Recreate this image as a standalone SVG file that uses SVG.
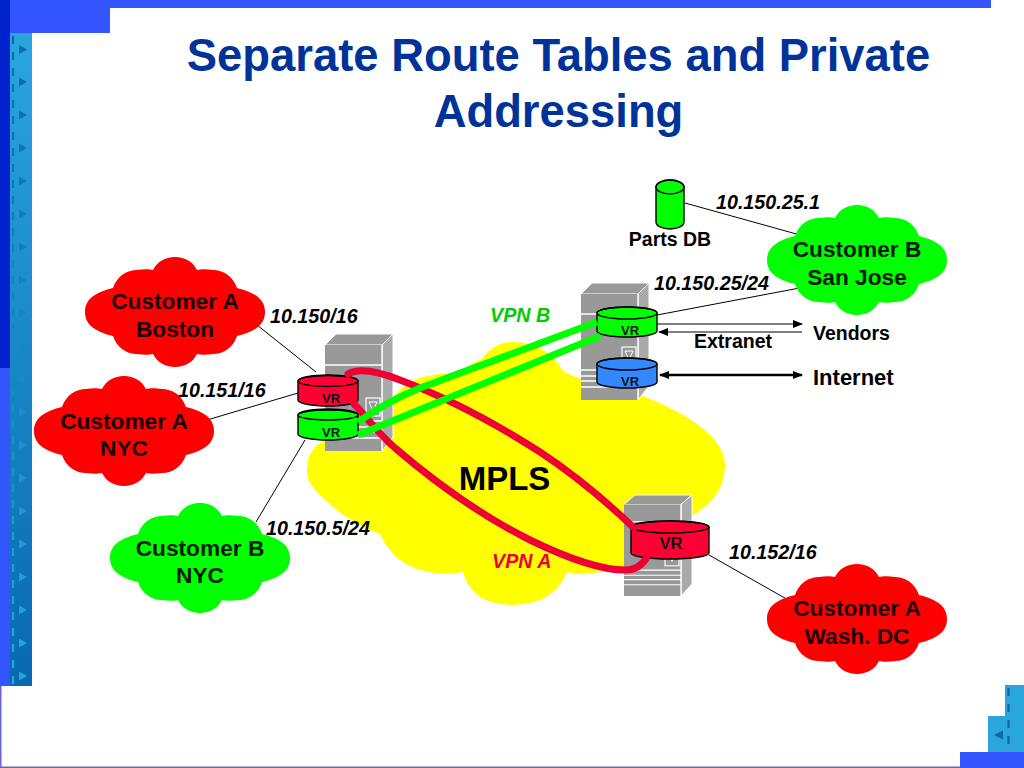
<svg xmlns="http://www.w3.org/2000/svg" width="1024" height="768" viewBox="0 0 1024 768">
<style>
text{font-family:"Liberation Sans",Arial,sans-serif;font-weight:bold;fill:#000;text-anchor:middle}
.ttl{font-size:45.4px;fill:#003399}
.cl{font-size:22.7px;fill:#1a0000}
.ip{font-size:19.7px;font-style:italic;text-anchor:start}
.lb{font-size:19.5px;text-anchor:start}
.vr{font-size:13px;fill:#111}
.thin{fill:none;stroke:#000;stroke-width:1}
.red{fill:#ff0033;stroke:#000;stroke-width:1.4}
.grn{fill:#00ff00;stroke:#000;stroke-width:1.4}
.blu{fill:#3388ff;stroke:#000;stroke-width:1.4}
.cap{fill:none;stroke:#000;stroke-width:1.4}
.rl{fill:none;stroke:#ee0033;stroke-width:7;stroke-linecap:round}
.gl{fill:none;stroke:#00ff00;stroke-width:7}
</style>
<defs>
<linearGradient id="strip" gradientUnits="userSpaceOnUse" x1="0" y1="33" x2="0" y2="686"><stop offset="0" stop-color="#2aa6dd"/><stop offset="1" stop-color="#0868b0"/></linearGradient>
<linearGradient id="mark" gradientUnits="userSpaceOnUse" x1="0" y1="33" x2="0" y2="686"><stop offset="0" stop-color="#0868b0"/><stop offset="1" stop-color="#2aa6dd"/></linearGradient>
<path id="cloud" d="M-90,0C-90,-14 -78,-20 -62,-24C-58,-36 -48,-42 -38,-42C-32,-43 -26,-43 -22,-42C-18,-50 -10,-55 0,-55C10,-55 18,-50 22,-42C26,-43 32,-43 38,-42C48,-42 58,-36 62,-24C78,-20 90,-14 90,0C90,14 78,20 62,24C58,36 48,42 38,42C32,43 26,43 22,42C18,50 10,55 0,55C-10,55 -18,50 -22,42C-26,43 -32,43 -38,42C-48,42 -58,36 -62,24C-78,20 -90,14 -90,0Z"/>
<g id="server">
<path d="M0,11L11,0H68L57,11Z" fill="#999" stroke="#fff" stroke-width="1"/>
<path d="M57,11L68,0V103L57,117Z" fill="#aaa" stroke="#fff" stroke-width="1"/>
<rect x="0" y="11" width="57" height="106" fill="#999"/>
<path d="M0,31H57M0,87H57M0,93H57M0,98H57M0,104H57M57,11V117" stroke="#fff" stroke-width="1.4" fill="none"/>
<rect x="41" y="64" width="14" height="18" fill="#999" stroke="#fff" stroke-width="1.2"/>
<path d="M44,68H52L48,77Z" fill="none" stroke="#fff" stroke-width="1"/>
</g>
<marker id="ah" markerUnits="userSpaceOnUse" markerWidth="10" markerHeight="8" refX="9" refY="4" orient="auto-start-reverse"><path d="M0,0L10,4L0,8Z" fill="#000"/></marker>
</defs>
<rect width="1024" height="768" fill="#ffffff"/>
<g id="slide-frame">
<rect x="0" y="686" width="1.5" height="82" fill="#6666cc"/>
<rect x="0" y="766.5" width="960" height="1.5" fill="#6666cc"/>
<rect x="10" y="33" width="22" height="653" fill="url(#strip)"/>
<rect x="0" y="0" width="10" height="368" fill="#0022cc"/>
<rect x="0" y="368" width="10" height="318" fill="#3355ff"/>
<rect x="10" y="0" width="981" height="8" fill="#3355ff"/>
<rect x="10" y="8" width="100" height="25" fill="#3355ff"/>
<path d="M13,36V686" stroke="url(#mark)" stroke-width="2.2" stroke-dasharray="8 8" fill="none"/>
<path fill="url(#mark)" d="M19,45l8,4.500l-8,4.500zM19,77.500l8,4.500l-8,4.500zM19,110.500l8,4.500l-8,4.500zM19,143.500l8,4.500l-8,4.500zM19,176.500l8,4.500l-8,4.500zM19,209.500l8,4.500l-8,4.500zM19,242.500l8,4.500l-8,4.500zM19,275.500l8,4.500l-8,4.500zM19,308.500l8,4.500l-8,4.500zM19,341.500l8,4.500l-8,4.500zM19,374.500l8,4.500l-8,4.500zM19,407.500l8,4.500l-8,4.500zM19,440.500l8,4.500l-8,4.500zM19,473.500l8,4.500l-8,4.500zM19,506.500l8,4.500l-8,4.500zM19,539.500l8,4.500l-8,4.500zM19,572.500l8,4.500l-8,4.500zM19,605.500l8,4.500l-8,4.500zM19,638.500l8,4.500l-8,4.500zM19,671.500l8,4.500l-8,4.500z"/>
<path d="M1005,685H1024V752H988V716H1005Z" fill="#2aa6dd"/>
<rect x="960" y="752" width="64" height="16" fill="#3355ff"/>
<path d="M1008.500,688V750" stroke="#0868b0" stroke-width="2.2" stroke-dasharray="8 8" fill="none"/>
<path d="M1003,730.500V739.500L994,735Z" fill="#0868b0"/>
</g>
<text class="ttl" x="558.500" y="71">Separate Route Tables and Private</text>
<text class="ttl" x="558.500" y="127">Addressing</text>
<g id="mpls">
<path d="M307,472C307,455 312,448 325,440L395,395C405,385 415,378 428,376C440,373 450,373 460,374C468,366 474,362 482,359C490,348 500,342 512,342C525,342 535,345 543,350C552,355 558,362 562,370C580,382 610,385 640,395C680,410 725,435 725,465C725,490 710,505 693,515L640,570L600,572C585,574 575,574 567,572C560,590 545,600 530,603C515,606 495,606 480,597C470,590 465,580 463,572C450,574 440,574 430,572C405,568 390,555 380,534C355,525 335,510 320,495C312,487 307,480 307,472Z" fill="#ffff00"/>
<text x="504.500" y="490" style="font-size:33px">MPLS</text>
</g>
<g id="server-left"><use href="#server" transform="translate(325,334)"/></g>
<g id="server-right"><use href="#server" transform="translate(581,283)"/></g>
<g id="server-dc"><use href="#server" transform="translate(624,495) scale(1,.863)"/></g>
<g id="connectors">
<path class="thin" d="M257,325L316,372M207,420L298,393M305,440L256,522M685,203L800,235M657,315L805,287M709,555L790,601"/>
<path class="thin" d="M657,324H802" marker-end="url(#ah)"/>
<path class="thin" d="M659,332H802" marker-start="url(#ah)"/>
<path d="M660,375H802" fill="none" stroke="#000" stroke-width="2.500" marker-start="url(#ah)" marker-end="url(#ah)"/>
</g>
<g id="cust-a-boston"><use href="#cloud" x="175" y="312" fill="#ff0000"/><text class="cl" x="175" y="309">Customer A</text><text class="cl" x="175" y="337">Boston</text></g>
<g id="cust-a-nyc"><use href="#cloud" x="124" y="431" fill="#ff0000"/><text class="cl" x="124" y="429">Customer A</text><text class="cl" x="124" y="456">NYC</text></g>
<g id="cust-b-nyc"><use href="#cloud" x="200" y="558" fill="#00ff00"/><text class="cl" x="200" y="556" style="fill:#001a00">Customer B</text><text class="cl" x="200" y="583" style="fill:#001a00">NYC</text></g>
<g id="cust-b-sj"><use href="#cloud" x="857" y="260" fill="#00ff00"/><text class="cl" x="857" y="257" style="fill:#001a00">Customer B</text><text class="cl" x="857" y="285" style="fill:#001a00">San Jose</text></g>
<g id="cust-a-dc"><use href="#cloud" x="857" y="619" fill="#ff0000"/><text class="cl" x="857" y="616">Customer A</text><text class="cl" x="857" y="644">Wash. DC</text></g>
<g id="parts-db">
<path class="grn" d="M656,187V222A14,7 0 0 0 684,222V187A14,7 0 0 0 656,187Z"/>
<ellipse class="cap" cx="670" cy="187" rx="14" ry="7"/>
<text x="670" y="246" style="font-size:19.5px">Parts DB</text>
</g>
<g id="vr-left-red">
<path class="red" d="M298,381V400A30,6 0 0 0 358,400V381A30,6 0 0 0 298,381Z"/>
<ellipse class="cap" cx="328" cy="381" rx="30" ry="5.500"/>
<text class="vr" x="331" y="403">VR</text>
</g>
<g id="vr-left-green">
<path class="grn" d="M298,415V434A30,6 0 0 0 358,434V415A30,6 0 0 0 298,415Z"/>
<ellipse class="cap" cx="328" cy="415" rx="30" ry="5"/>
<text class="vr" x="331" y="437">VR</text>
</g>
<g id="vr-right-green">
<path class="grn" d="M597,313V331A30,6 0 0 0 657,331V313A30,6 0 0 0 597,313Z"/>
<ellipse class="cap" cx="627" cy="313" rx="30" ry="6"/>
<text class="vr" x="630" y="335">VR</text>
</g>
<g id="vr-right-blue">
<path class="blu" d="M597,364V382A30,6 0 0 0 657,382V364A30,6 0 0 0 597,364Z"/>
<ellipse class="cap" cx="627" cy="364" rx="30" ry="6"/>
<text class="vr" x="630" y="386">VR</text>
</g>
<g id="vr-dc">
<path class="red" d="M631,527V553A39,6 0 0 0 709,553V527A39,6 0 0 0 631,527Z"/>
<ellipse class="cap" cx="670" cy="527" rx="39" ry="6"/>
<text class="vr" x="671" y="549" style="font-size:16.500px">VR</text>
</g>
<g id="vpn-paths">
<path class="rl" d="M348,374C358,368 375,370 400,380C440,395 490,420 540,452C575,475 610,505 634,528"/>
<path class="rl" d="M354,404C368,418 375,430 395,448C430,478 480,515 530,540C565,557 600,570 625,570C635,570 642,566 647,557"/>
<path class="gl" d="M358,422C375,410 395,398 420,388L597,322"/>
<path class="gl" d="M358,435L600,336"/>
</g>
<g id="labels">
<text class="ip" x="716" y="209">10.150.25.1</text>
<text class="ip" x="654" y="290">10.150.25/24</text>
<text class="ip" x="270" y="323">10.150/16</text>
<text class="ip" x="178" y="397">10.151/16</text>
<text class="ip" x="266" y="535">10.150.5/24</text>
<text class="ip" x="729" y="559">10.152/16</text>
<text class="ip" x="490" y="322" style="fill:#00cc00">VPN B</text>
<text class="ip" x="492" y="568" style="fill:#ee0033">VPN A</text>
<text class="lb" x="813" y="340">Vendors</text>
<text class="lb" x="694" y="348">Extranet</text>
<text class="lb" x="813" y="385" style="font-size:22px">Internet</text>
</g>
</svg>
